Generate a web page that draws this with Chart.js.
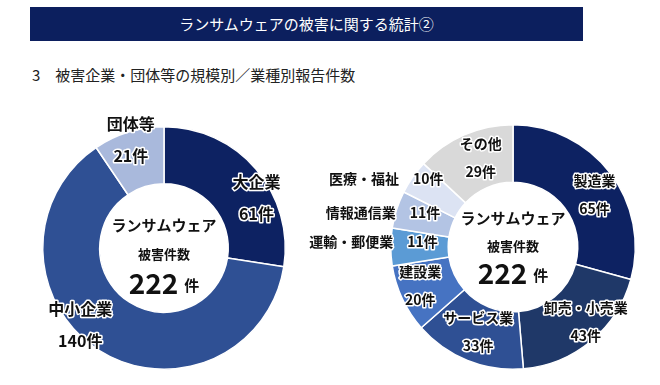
<!DOCTYPE html>
<html>
<head>
<meta charset="utf-8">
<script src="https://cdn.jsdelivr.net/npm/chart.js@4"></script>
<style>
  body { margin: 0; background: #fff; font-family: "Noto Sans CJK JP", sans-serif; }
  #page { position: relative; width: 660px; height: 385px; overflow: hidden; }
  #header {
    position: absolute; left: 30px; top: 7px; width: 553px; height: 34px;
    background: #0c1f5e; color: #fff; font-size: 15px; line-height: 34px; text-align: center;
  }
  #sub { position: absolute; left: 32px; top: 64px; font-size: 15px; line-height: 22px; color: #222; }
  .box { position: absolute; top: 100px; height: 285px; }
</style>
</head>
<body>
<div id="page">
  <div id="header">ランサムウェアの被害に関する統計②</div>
  <div id="sub">3　被害企業・団体等の規模別／業種別報告件数</div>
  <div class="box" style="left:0; width:290px"><canvas id="size"></canvas></div>
  <div class="box" style="left:290px; width:370px"><canvas id="industry"></canvas></div>
</div>
<script>
// 規模別
var sizeLabels = ["大企業", "中小企業", "団体等"];
var sizeCounts = [61, 140, 21];
var sizeColors = ["#0d2262", "#2f5094", "#a9b9dc"];

// 業種別
var industryLabels = ["製造業", "卸売・小売業", "サービス業", "建設業", "運輸・郵便業", "情報通信業", "医療・福祉", "その他"];
var industryCounts = [65, 43, 33, 20, 11, 11, 10, 29];
var industryColors = ["#0d2262", "#1f3868", "#2f5094", "#4673c2", "#5b9bd5", "#b3c4e4", "#dce3f3", "#d9d9d9"];

var centerTitle = ["ランサムウェア", "被害件数"];
var totalCount = 222;
var unit = "件";

var font = '"Noto Sans CJK JP", sans-serif';

// label placement relative to each arc's centroid
var sizePlace = [
    {mode: 'stack', dx: 22, dy: 10},
    {mode: 'stack', dx: -34, dy: -1},
    {mode: 'stack', dx: -6, dy: -19}
];
var industryPlace = [
    {mode: 'stack', dx: 7, dy: 4},
    {mode: 'stack', dx: 13, dy: 3},
    {mode: 'stack', dx: 0, dy: -2},
    {mode: 'stack', dx: -8, dy: -1},
    {mode: 'inline', dx: 3, dy: -5},
    {mode: 'inline', dx: 1, dy: -6},
    {mode: 'inline', dx: -8, dy: -15},
    {mode: 'stack', dx: 5, dy: -4}
];

function haloText(ctx, text, x, y) {
    ctx.lineWidth = 3;
    ctx.strokeStyle = '#fff';
    ctx.lineJoin = 'round';
    ctx.strokeText(text, x, y);
    ctx.fillStyle = '#111';
    ctx.fillText(text, x, y);
}

var labelPlugin = {
    id: 'labels',
    afterDatasetsDraw: function(chart, args, opts) {
        var ctx = chart.ctx;
        var meta = chart.getDatasetMeta(0);
        var labels = chart.data.labels;
        var values = chart.data.datasets[0].data;
        ctx.save();
        ctx.textBaseline = 'middle';
        ctx.font = 'bold ' + opts.size + 'px ' + font;
        meta.data.forEach(function(arc, i) {
            var p = arc.tooltipPosition();
            var pl = opts.place[i];
            var x = p.x + pl.dx, y = p.y + pl.dy;
            var num = values[i] + unit;
            if (pl.mode === 'stack') {
                ctx.textAlign = 'center';
                haloText(ctx, labels[i], x, y - opts.gap / 2);
                haloText(ctx, num, x, y + opts.gap / 2);
            } else {
                ctx.textAlign = 'center';
                haloText(ctx, num, x, y);
                var w = ctx.measureText(num).width;
                ctx.textAlign = 'right';
                haloText(ctx, labels[i], x - w / 2 - 14, y);
            }
        });
        // centre text
        var cx = meta.data[0].x, cy = meta.data[0].y;
        ctx.textAlign = 'center';
        ctx.fillStyle = '#111';
        ctx.font = 'bold 15px ' + font;
        ctx.fillText(centerTitle[0], cx, cy + opts.cy[0]);
        ctx.font = 'bold 13px ' + font;
        ctx.fillText(centerTitle[1], cx, cy + opts.cy[1]);
        ctx.font = 'bold 28px ' + font;
        var t = String(totalCount);
        var tw = ctx.measureText(t).width;
        ctx.font = 'bold 15px ' + font;
        var uw = ctx.measureText(unit).width;
        var start = cx - (tw + 6 + uw) / 2;
        ctx.textAlign = 'left';
        ctx.font = 'bold 28px ' + font;
        ctx.fillText(t, start, cy + opts.cy[2]);
        ctx.font = 'bold 15px ' + font;
        ctx.fillText(unit, start + tw + 6, cy + opts.cy[2] + 2);
        ctx.restore();
    }
};

function makeDonut(id, labels, data, colors, padding, pluginOpts) {
    return new Chart(document.getElementById(id), {
        type: 'doughnut',
        data: {
            labels: labels,
            datasets: [{
                data: data,
                backgroundColor: colors,
                borderColor: '#fff',
                borderWidth: 1.5
            }]
        },
        options: {
            responsive: true,
            maintainAspectRatio: false,
            animation: false,
            events: [],
            cutout: '53%',
            layout: {padding: padding},
            plugins: {
                legend: {display: false},
                tooltip: {enabled: false},
                labels: pluginOpts
            }
        },
        plugins: [labelPlugin]
    });
}

makeDonut('size', sizeLabels, sizeCounts, sizeColors,
    {left: 42, right: 4, top: 26, bottom: 15},
    {place: sizePlace, size: 16, gap: 32, cy: [-23, 6, 35]});

makeDonut('industry', industryLabels, industryCounts, industryColors,
    {left: 100, right: 24, top: 24, bottom: 15},
    {place: industryPlace, size: 14, gap: 28, cy: [-29, -1, 26]});
</script>
</body>
</html>
